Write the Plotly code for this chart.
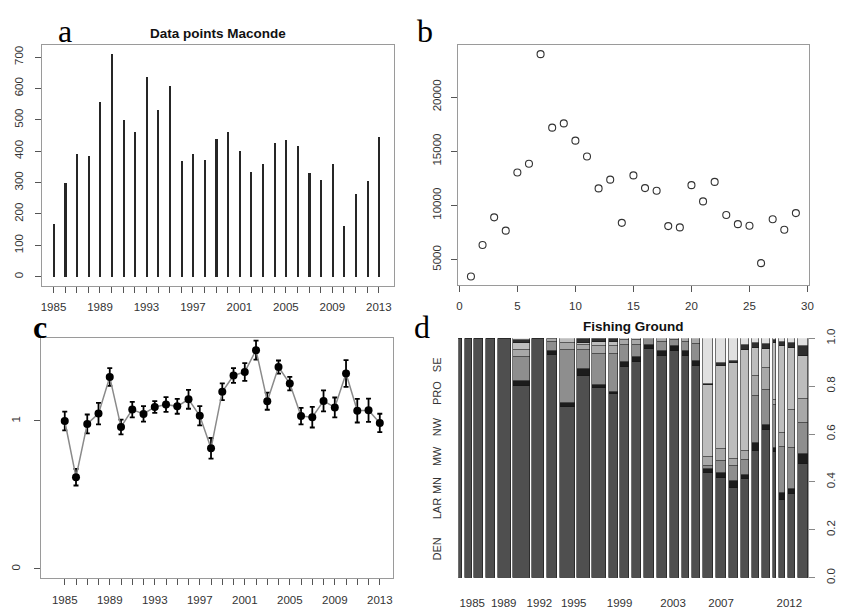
import plotly.graph_objects as go

# ---------------- data ----------------
years = list(range(1985, 2014))
counts = [168, 300, 391, 384, 558, 710, 500, 460, 638, 532, 607, 370, 391, 373, 438,
          460, 400, 335, 358, 427, 434, 418, 331, 309, 359, 160, 265, 305, 445]

b_index = list(range(1, 30))
b_values = [3440, 6350, 8900, 7670, 13040, 13850, 23960, 17180, 17570, 15980, 14510,
            11570, 12380, 8390, 12770, 11600, 11360, 8090, 7970, 11870, 10370, 12170,
            9110, 8270, 8120, 4670, 8720, 7760, 9290]
b_yticks = [5000, 10000, 15000, 20000]

c_values = [1.00, 0.62, 0.98, 1.05, 1.297, 0.96, 1.077, 1.048, 1.095, 1.112, 1.099, 1.147,
            1.035, 0.815, 1.198, 1.308, 1.332, 1.479, 1.134, 1.365, 1.253, 1.033, 1.026,
            1.136, 1.092, 1.321, 1.07, 1.073, 0.987]
c_errors = [0.064, 0.056, 0.064, 0.073, 0.06, 0.05, 0.052, 0.052, 0.04, 0.05, 0.05, 0.064,
            0.065, 0.07, 0.057, 0.05, 0.06, 0.064, 0.058, 0.044, 0.046, 0.056, 0.07,
            0.071, 0.067, 0.09, 0.08, 0.079, 0.062]

ground_names = ["DEN", "LAR", "MN", "MW", "NW", "PRO", "SE"]
DEN = [0.995, 0.995, 0.995, 0.995, 0.995, 0.80, 0.995, 0.93, 0.71, 0.84, 0.79, 0.765, 0.88, 0.90,
       0.955, 0.925, 0.945, 0.925, 0.885, 0.435, 0.415, 0.375, 0.41, 0.53, 0.615, 0.525, 0.325, 0.35, 0.475]
LAR = [0.005, 0.005, 0.005, 0.005, 0.005, 0.02, 0.005, 0.015, 0.02, 0.03, 0.015, 0.01, 0.02, 0.02,
       0.015, 0.02, 0.02, 0.02, 0.02, 0.02, 0.02, 0.03, 0.02, 0.03, 0.02, 0.015, 0.03, 0.02, 0.04]
MN = [0, 0, 0, 0, 0, 0.10, 0, 0.04, 0.22, 0.08, 0.13, 0.16, 0.07, 0.05, 0.03, 0.04, 0.025, 0.04,
      0.07, 0.01, 0.05, 0.06, 0.06, 0.20, 0.15, 0.18, 0.19, 0.17, 0.13]
MW = [0, 0, 0, 0, 0, 0.03, 0, 0.01, 0.03, 0.02, 0.03, 0.03, 0.02, 0.02, 0, 0.015, 0.01, 0.015,
      0.025, 0.04, 0.05, 0.03, 0.04, 0.08, 0.09, 0.02, 0.06, 0.16, 0.10]
NW = [0, 0, 0, 0, 0, 0.03, 0, 0.005, 0.02, 0.01, 0.02, 0.02, 0.01, 0.01, 0, 0, 0, 0, 0, 0.30,
      0.35, 0.40, 0.42, 0.12, 0.08, 0.24, 0.36, 0.26, 0.18]
PRO = [0, 0, 0, 0, 0, 0.01, 0, 0, 0, 0.02, 0.015, 0.015, 0, 0, 0, 0, 0, 0, 0, 0.005, 0.01, 0.01,
       0.02, 0.02, 0.02, 0.01, 0.02, 0.02, 0.04]
SE = [0, 0, 0, 0, 0, 0.01, 0, 0, 0, 0, 0, 0, 0, 0, 0, 0, 0, 0, 0, 0.19, 0.105, 0.095, 0.03, 0.02,
      0.025, 0.01, 0.015, 0.02, 0.035]
ground_values = [DEN, LAR, MN, MW, NW, PRO, SE]
ground_colors = ["#4f4f4f", "#1c1c1c", "#8e8e8e", "#a8a8a8", "#bdbdbd", "#2e2e2e", "#e0e0e0"]

d_year_labels = ["1985", "1989", "1992", "1995", "1999", "2003", "2007", "2012"]
d_year_label_frac = [0.040, 0.130, 0.232, 0.330, 0.461, 0.614, 0.751, 0.946]
d_ground_label_pos = [0.114, 0.282, 0.378, 0.500, 0.622, 0.764, 0.882]

# ---------------- spine positions ----------------
gap = 130
lefts, pos = [], 0
for w in counts:
    lefts.append(pos)
    pos += w + gap
xmax = pos - gap
centers = [l + w / 2 for l, w in zip(lefts, counts)]

W, H = 843, 612
def px_x(a, b):
    return [a / W, b / W]
def px_y(top, bottom):
    return [1 - bottom / H, 1 - top / H]

FONT = "Liberation Sans, Arial, sans-serif"
tickfont = dict(family=FONT, size=11.5, color="#333")

fig = go.Figure()

# panel a
fig.add_trace(go.Bar(x=years, y=counts, width=0.18, marker=dict(color="#262626", line_width=0),
                     xaxis="x", yaxis="y"))
# panel b
fig.add_trace(go.Scatter(x=b_index, y=b_values, mode="markers",
                         marker=dict(symbol="circle-open", size=7, color="#333", line=dict(width=1.1)),
                         xaxis="x2", yaxis="y2"))
# panel c
fig.add_trace(go.Scatter(x=years, y=c_values, mode="lines+markers",
                         line=dict(color="#8a8a8a", width=1.5),
                         marker=dict(color="black", size=8),
                         error_y=dict(type="data", array=c_errors, color="black", thickness=1.8, width=2.5),
                         xaxis="x3", yaxis="y3"))
# panel d
for name, vals, col in zip(ground_names, ground_values, ground_colors):
    fig.add_trace(go.Bar(x=centers, y=vals, width=counts, name=name,
                         marker=dict(color=col, line=dict(color="#151515", width=0.6)),
                         xaxis="x4", yaxis="y4"))
# invisible trace so the left category axis of panel d is drawn
fig.add_trace(go.Scatter(x=[centers[0]], y=[0.5], mode="markers", marker=dict(opacity=0),
                         hoverinfo="skip", xaxis="x4", yaxis="y5"))

base_ax = dict(showgrid=False, zeroline=False, showline=True, mirror=True, linecolor="#9a9a9a",
               linewidth=1, ticks="outside", ticklen=6, tickcolor="#555", tickfont=tickfont)

year_text = [str(y) if (y - 1985) % 4 == 0 else "" for y in years]

fig.update_layout(
    width=W, height=H, margin=dict(l=0, r=0, t=0, b=0),
    paper_bgcolor="white", plot_bgcolor="white", showlegend=False,
    barmode="stack", bargap=0,
    xaxis=dict(base_ax, domain=px_x(40, 395), range=[1983.98, 2014.28], tickvals=years,
               ticktext=year_text, anchor="y", ticklabelstandoff=5),
    yaxis=dict(base_ax, domain=px_y(36, 283), range=[-28.4, 738.4], tickvals=list(range(0, 800, 100)),
               tickangle=-90, anchor="x", ticklabelstandoff=7),
    xaxis2=dict(base_ax, domain=px_x(460, 814), range=[-0.1, 30.15], tickvals=list(range(0, 31, 5)),
                anchor="y2", ticklabelstandoff=5),
    yaxis2=dict(base_ax, domain=px_y(36, 282), range=[2690, 24800], tickvals=b_yticks,
                ticktext=[str(v) for v in b_yticks],
                tickangle=-90, anchor="x2", ticklabelstandoff=6),
    xaxis3=dict(base_ax, domain=px_x(39, 394), range=[1982.86, 2014.15], tickvals=years,
                ticktext=year_text, anchor="y3", ticklabelstandoff=5),
    yaxis3=dict(base_ax, domain=px_y(337, 583), range=[-0.06, 1.56], tickvals=[0, 1],
                tickangle=-90, anchor="x3", ticklabelstandoff=9),
    xaxis4=dict(showgrid=False, zeroline=False, showline=False, domain=px_x(460, 813),
                range=[0, xmax], tickvals=[f * xmax for f in d_year_label_frac], ticktext=d_year_labels,
                ticks="outside", ticklen=6, tickcolor="rgba(0,0,0,0)", tickfont=tickfont,
                anchor="y4", ticklabelstandoff=8),
    yaxis4=dict(showgrid=False, zeroline=False, showline=True, linecolor="#9a9a9a", side="right",
                domain=px_y(337, 583), range=[0, 1], tickvals=[0, 0.2, 0.4, 0.6, 0.8, 1.0],
                ticktext=["0.0", "0.2", "0.4", "0.6", "0.8", "1.0"], tickangle=-90,
                ticks="outside", ticklen=6, tickcolor="#888", tickfont=tickfont, anchor="x4",
                ticklabelstandoff=6),
    yaxis5=dict(showgrid=False, zeroline=False, showline=False, side="left", overlaying="y4",
                anchor="x4", range=[0, 1], tickvals=d_ground_label_pos, ticktext=ground_names,
                tickangle=-90, ticks="outside", ticklen=12, tickcolor="rgba(0,0,0,0)",
                tickfont=dict(family=FONT, size=11, color="#333")),
)

ann = []
ann.append(dict(text="<b>Data points Maconde</b>", x=217.5 / W, y=1 - 24 / H, xref="paper", yref="paper",
                showarrow=False, xanchor="center", yanchor="middle",
                font=dict(family=FONT, size=13.5, color="#111")))
ann.append(dict(text="<b>Fishing Ground</b>", x=636.5 / W, y=1 - 325 / H, xref="paper", yref="paper",
                showarrow=False, xanchor="center", yanchor="middle",
                font=dict(family=FONT, size=13.5, color="#111")))
SERIF = "Liberation Serif, DejaVu Serif, serif"
for txt, xp, yp, bold in [("a", 63.5, 22, False), ("b", 427, 22, False), ("c", 38, 326, True), ("d", 424, 326, False)]:
    ann.append(dict(text=("<b>%s</b>" % txt) if bold else txt, x=xp / W, y=1 - yp / H, xref="paper",
                    yref="paper", showarrow=False, xanchor="center", yanchor="middle",
                    font=dict(family=SERIF, size=32, color="black")))
fig.update_layout(annotations=ann)

fig.write_html("out.html")
